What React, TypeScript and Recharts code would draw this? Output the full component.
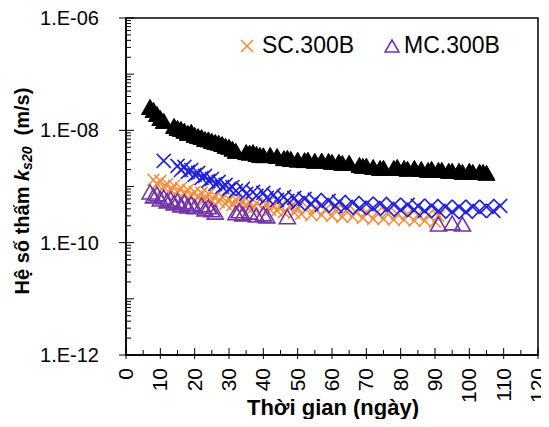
import { ScatterChart, Scatter, XAxis, YAxis, ReferenceArea, Label } from "recharts";

const FONT = "'Liberation Sans', Arial, sans-serif";

// black filled triangles (no legend entry)
const blackDays = [7, 8, 9, 10, 11, 14, 15, 16, 17, 18, 19, 20, 21, 22, 23, 24, 25, 26, 27, 28, 29, 30, 31, 32, 35, 36, 37, 38, 39, 40, 42, 44, 46, 47, 48, 50, 52, 53, 55, 57, 59, 60, 62, 63, 65, 68, 69, 70, 72, 74, 75, 78, 79, 81, 82, 84, 86, 88, 89, 91, 92, 94, 95, 97, 98, 100, 101, 103, 104, 105];
const blackK = [2.61e-8, 2.31e-8, 1.96e-8, 1.66e-8, 1.47e-8, 1.2e-8, 1.1e-8, 1.06e-8, 9.8e-9, 9.0e-9, 9.4e-9, 8.3e-9, 7.9e-9, 7.6e-9, 7.0e-9, 6.9e-9, 6.5e-9, 6.2e-9, 6.0e-9, 5.7e-9, 5.3e-9, 5.1e-9, 4.7e-9, 4.3e-9, 4.1e-9, 4.0e-9, 4.1e-9, 3.8e-9, 3.65e-9, 3.6e-9, 3.65e-9, 3.5e-9, 3.2e-9, 3.25e-9, 3.1e-9, 3.0e-9, 2.95e-9, 3.0e-9, 2.86e-9, 2.9e-9, 2.85e-9, 2.74e-9, 2.75e-9, 2.63e-9, 2.65e-9, 2.42e-9, 2.33e-9, 2.35e-9, 2.23e-9, 2.14e-9, 2.15e-9, 2.14e-9, 2.23e-9, 2.14e-9, 2.06e-9, 2.14e-9, 2.05e-9, 1.97e-9, 2.06e-9, 1.97e-9, 1.98e-9, 1.9e-9, 1.9e-9, 1.9e-9, 1.82e-9, 1.9e-9, 1.82e-9, 1.83e-9, 1.82e-9, 1.75e-9];

// blue crosses (no legend entry)
const blueDays = [11, 15, 16, 17, 18, 19, 20, 21, 22, 23, 24, 25, 26, 27, 28, 29, 30, 31, 32, 34, 35, 37, 38, 40, 41, 43, 44, 46, 47, 49, 50, 52, 54, 55, 57, 59, 61, 62, 64, 66, 68, 70, 72, 74, 76, 78, 80, 82, 84, 85, 87, 89, 91, 93, 95, 97, 99, 101, 103, 105, 107, 109];
const blueK = [2.86e-9, 2.33e-9, 1.97e-9, 2.23e-9, 1.82e-9, 1.97e-9, 1.61e-9, 1.75e-9, 1.42e-9, 1.55e-9, 1.26e-9, 1.36e-9, 1.11e-9, 1.21e-9, 9.8e-10, 1.07e-9, 9.06e-10, 9.8e-10, 8.35e-10, 9.06e-10, 7.38e-10, 8.02e-10, 6.81e-10, 7.69e-10, 6.27e-10, 7.09e-10, 5.78e-10, 6.53e-10, 5.55e-10, 6.27e-10, 5.11e-10, 6.02e-10, 4.9e-10, 5.78e-10, 4.71e-10, 5.55e-10, 4.52e-10, 5.32e-10, 4.34e-10, 5.11e-10, 4.16e-10, 4.9e-10, 4.16e-10, 4.9e-10, 3.99e-10, 4.71e-10, 3.84e-10, 4.71e-10, 3.84e-10, 4.52e-10, 3.68e-10, 4.52e-10, 3.68e-10, 4.34e-10, 3.53e-10, 4.34e-10, 3.53e-10, 4.34e-10, 3.68e-10, 4.34e-10, 3.68e-10, 4.52e-10];

// SC.300B
const scDays = [8, 9, 10, 11, 12, 13, 14, 15, 16, 17, 18, 19, 20, 21, 22, 23, 24, 25, 26, 27, 28, 29, 30, 31, 32, 33, 34, 35, 36, 37, 38, 40, 41, 42, 43, 44, 45, 46, 48, 49, 50, 51, 53, 54, 55, 57, 58, 60, 61, 63, 64, 66, 67, 69, 70, 72, 73, 75, 76, 78, 79, 81, 82, 84, 85, 87, 88, 90, 91];
const scK = [1.32e-9, 1.11e-9, 1.26e-9, 9.8e-10, 1.11e-9, 8.7e-10, 1.03e-9, 8.0e-10, 9.4e-10, 7.4e-10, 8.7e-10, 6.8e-10, 8.0e-10, 6.3e-10, 7.7e-10, 6.0e-10, 7.4e-10, 5.55e-10, 6.8e-10, 5.3e-10, 6.5e-10, 4.9e-10, 6.0e-10, 4.7e-10, 5.8e-10, 4.5e-10, 5.55e-10, 4.35e-10, 5.3e-10, 4.15e-10, 5.1e-10, 4.0e-10, 4.9e-10, 3.85e-10, 4.7e-10, 3.7e-10, 4.5e-10, 3.5e-10, 4.35e-10, 3.4e-10, 4.15e-10, 3.25e-10, 4.15e-10, 3.1e-10, 4.0e-10, 3.1e-10, 3.85e-10, 3.0e-10, 3.85e-10, 2.88e-10, 3.7e-10, 2.9e-10, 3.5e-10, 2.76e-10, 3.5e-10, 2.65e-10, 3.4e-10, 2.65e-10, 3.4e-10, 2.55e-10, 3.25e-10, 2.55e-10, 3.25e-10, 2.45e-10, 3.1e-10, 2.45e-10, 3.1e-10, 2.35e-10, 3.0e-10];

// MC.300B
const mcDays = [7, 8, 9, 10, 11, 12, 13, 14, 15, 16, 17, 18, 19, 20, 22, 23, 24, 25, 26, 32, 33, 34, 36, 38, 40, 41, 47, 91, 95, 98];
const mcK = [8.0e-10, 6.8e-10, 7.4e-10, 6.0e-10, 6.5e-10, 5.55e-10, 6.0e-10, 5.1e-10, 5.55e-10, 4.7e-10, 5.3e-10, 4.5e-10, 4.9e-10, 4.35e-10, 4.7e-10, 4.0e-10, 4.35e-10, 3.85e-10, 3.5e-10, 3.4e-10, 3.7e-10, 3.25e-10, 3.5e-10, 3.1e-10, 3.25e-10, 3.0e-10, 2.9e-10, 2.15e-10, 2.25e-10, 2.15e-10];

const xTicks = [0, 5, 10, 15, 20, 25, 30, 35, 40, 45, 50, 55, 60, 65, 70, 75, 80, 85, 90, 95, 100, 105, 110, 115, 120];
const yTicks: number[] = [];
for (let e = -12; e < -6; e++) {
  for (let m = 1; m <= 9; m++) yTicks.push(Number(`${m}e${e}`));
}
yTicks.push(1e-6);

const toRows = (days: number[], k: number[]) => days.map((d, i) => ({ day: d, k: k[i] }));

const ORANGE = "#F68B3C";
const BLUE = "#2222DD";
const PURPLE = "#7232A8";

const cross = (color: string, r: number, w: number) => (p: any) => (
  <g>
    <line x1={p.cx - r} y1={p.cy - r} x2={p.cx + r} y2={p.cy + r} stroke={color} strokeWidth={w} />
    <line x1={p.cx - r} y1={p.cy + r} x2={p.cx + r} y2={p.cy - r} stroke={color} strokeWidth={w} />
  </g>
);

const tri = (fill: string, stroke: string, w: number, h: number, sw: number) => (p: any) => (
  <polygon
    points={`${p.cx},${p.cy - h / 2} ${p.cx - w / 2},${p.cy + h / 2} ${p.cx + w / 2},${p.cy + h / 2}`}
    fill={fill}
    stroke={stroke}
    strokeWidth={sw}
  />
);

const YTick = (props: any) => {
  const { x, y, payload } = props;
  const lg = Math.log10(payload.value);
  const exp = Math.round(lg);
  const decade = Math.abs(lg - exp) < 1e-6;
  const labeled = decade && exp % 2 === 0;
  return (
    <g>
      <line x1={labeled ? x - 7 : x} x2={x + (decade ? 8 : 5)} y1={y} y2={y} stroke="#000" strokeWidth={1} />
      {labeled && (
        <text x={x - 27} y={y} dy="0.35em" textAnchor="end" fontSize={20} fontFamily={FONT} fill="#000">
          {`1.E-${String(-exp).padStart(2, "0")}`}
        </text>
      )}
    </g>
  );
};

const XTick = (props: any) => {
  const { x, y, payload } = props;
  const v = payload.value;
  const major = v % 10 === 0;
  const ty = y + 13;
  return (
    <g>
      <line x1={x} x2={x} y1={y - (major ? 7 : 5)} y2={y + (major ? 4 : 0)} stroke="#000" strokeWidth={1} />
      {major && (
        <text x={x} y={ty} dy="0.33em" textAnchor="end" transform={`rotate(-90 ${x} ${ty})`} fontSize={21} fontFamily={FONT} fill="#000">
          {v}
        </text>
      )}
    </g>
  );
};

const App = () => {
  return (
    <div style={{ position: "relative", width: 549, height: 427, margin: -8, background: "#fff" }}>
      <ScatterChart width={549} height={427} margin={{ top: 18, right: 11, bottom: 0, left: 0 }}>
        <XAxis
          type="number"
          dataKey="day"
          domain={[0, 120]}
          ticks={xTicks}
          interval={0}
          height={72}
          tickSize={0}
          tickMargin={0}
          tick={XTick}
          axisLine={{ stroke: "#000", strokeWidth: 1.5 }}
          allowDataOverflow
        >
          <Label
            content={() => (
              <text x={333} y={415} textAnchor="middle" fontSize={22} fontWeight="bold" fontFamily={FONT} fill="#000">
                Thời gian (ngày)
              </text>
            )}
          />
        </XAxis>
        <YAxis
          type="number"
          dataKey="k"
          scale="log"
          domain={[1e-12, 1e-6]}
          ticks={yTicks}
          interval={0}
          width={126}
          tickSize={0}
          tickMargin={0}
          tick={YTick}
          axisLine={{ stroke: "#000", strokeWidth: 1.5 }}
          allowDataOverflow
        >
          <Label
            content={() => (
              <text
                x={22}
                y={191}
                transform="rotate(-90 22 191)"
                textAnchor="middle"
                dominantBaseline="central"
                fontSize={20}
                fontWeight="bold"
                fontFamily={FONT}
                fill="#000"
                style={{ whiteSpace: "pre" }}
              >
                Hệ số thấm <tspan fontStyle="italic">k</tspan>
                <tspan fontStyle="italic" fontSize={14} dy={5}>s20</tspan>
                <tspan dy={-5}>{"\u00a0\u00a0(m/s)"}</tspan>
              </text>
            )}
          />
        </YAxis>
        <ReferenceArea x1={0} x2={120} y1={1e-12} y2={1e-6} fill="none" stroke="#000" strokeWidth={1.5} />
        <Scatter name="SC.300B" data={toRows(scDays, scK)} shape={cross(ORANGE, 6, 1.5)} isAnimationActive={false} />
        <Scatter name="MC.300B" data={toRows(mcDays, mcK)} shape={tri("none", PURPLE, 16, 14, 1.6)} isAnimationActive={false} />
        <Scatter data={toRows(blueDays, blueK)} shape={cross(BLUE, 7, 1.6)} isAnimationActive={false} />
        <Scatter data={toRows(blackDays, blackK)} shape={tri("#000", "#000", 17, 15, 1)} isAnimationActive={false} />
      </ScatterChart>

      {/* legend */}
      <svg style={{ position: "absolute", left: 240, top: 39 }} width={14} height={14}>
        <line x1={1} y1={1} x2={13} y2={13} stroke={ORANGE} strokeWidth={1.6} />
        <line x1={1} y1={13} x2={13} y2={1} stroke={ORANGE} strokeWidth={1.6} />
      </svg>
      <span style={{ position: "absolute", left: 262, top: 34, fontFamily: FONT, fontSize: 23, lineHeight: "23px" }}>SC.300B</span>
      <svg style={{ position: "absolute", left: 384, top: 39 }} width={16} height={14}>
        <polygon points="8,1 1,13 15,13" fill="none" stroke={PURPLE} strokeWidth={1.6} />
      </svg>
      <span style={{ position: "absolute", left: 404, top: 34, fontFamily: FONT, fontSize: 23, lineHeight: "23px" }}>MC.300B</span>
    </div>
  );
};

export default App;
